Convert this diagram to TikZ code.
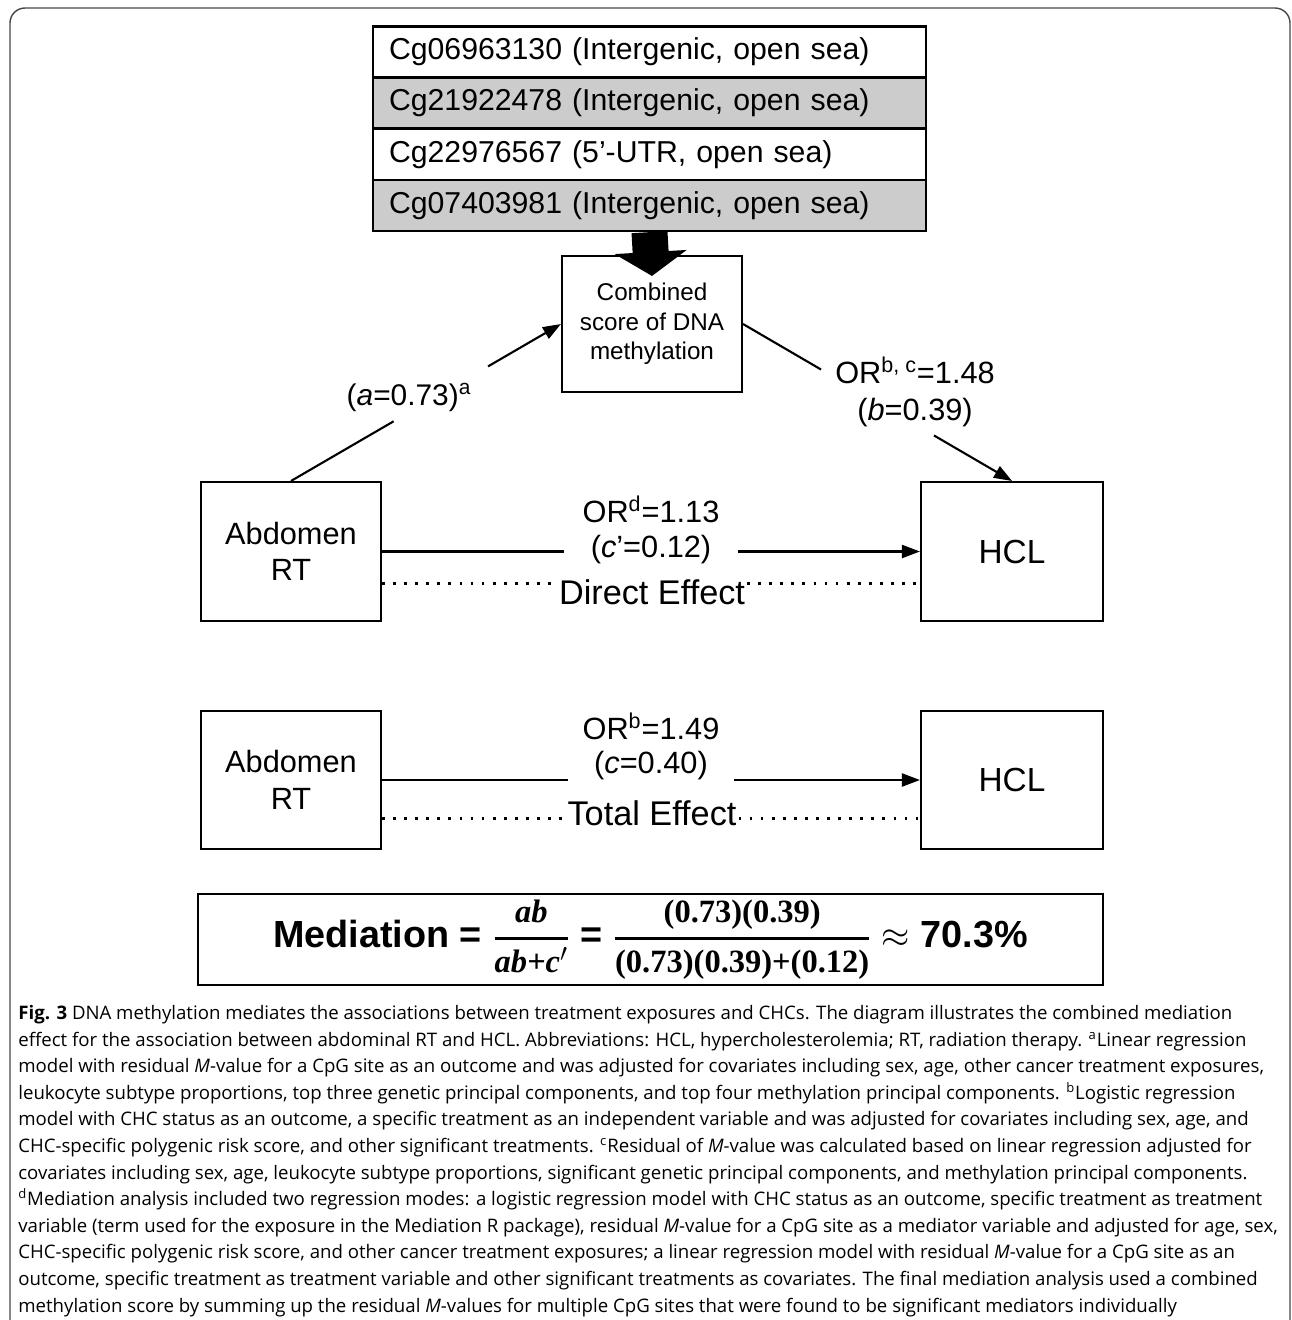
\documentclass[tikz,border=0pt]{standalone}
\usepackage{fontspec}
\usepackage{amsmath}
\setmainfont{Liberation Sans}
\newfontfamily\capfont{Open Sans}
\newfontfamily\fracfont{Liberation Serif}
\usetikzlibrary{calc,arrows.meta}

\definecolor{rowgray}{RGB}{204,204,204}
\definecolor{framegray}{RGB}{70,70,70}
\newcommand\fr{\fracfont\bfseries\fontsize{18.5}{20}\selectfont}

\tikzset{
  cellbox/.style={draw, line width=1.3pt, minimum height=1.02cm, text width=10.42cm,
    inner xsep=0.32cm, align=left, font=\fontsize{17.2}{18}\selectfont},
  varbox/.style={draw, line width=1.2pt, minimum width=3.6cm, minimum height=2.78cm,
    align=center, font=\fontsize{17.5}{20.8}\selectfont},
  pathlabel/.style={font=\fontsize{17.5}{21}\selectfont, inner sep=0pt, align=center},
  gaplabel/.style={font=\fontsize{17.5}{21}\selectfont, inner ysep=0pt, inner xsep=0.52cm},
  effectlabel/.style={font=\fontsize{19.5}{22}\selectfont, inner ysep=0pt, inner xsep=1pt},
  plainlink/.style={line width=1.2pt},
  link/.style={line width=1.2pt, -{Triangle[length=0.36cm,width=0.26cm]}},
  effectline/.style={line width=1.7pt, dash pattern=on 1.6pt off 4.7pt},
}

\begin{document}
\begin{tikzpicture}[x=0.02cm, y=-0.02cm]
    \useasboundingbox (0,0) rectangle (1292,1320);
    \draw[framegray, line width=0.8pt, rounded corners=0.3cm] (10,1320) -- (10,8) -- (1290,8) -- (1290,1320);

    % CpG sites
    \node[cellbox] (cell1) at (649.5,52) {Cg06963130 (Intergenic, open sea)};
    \node[cellbox, fill=rowgray] (cell2) at (649.5,103) {Cg21922478 (Intergenic, open sea)};
    \node[cellbox] (cell3) at (649.5,154.5) {Cg22976567 (5'-UTR, open sea)};
    \node[cellbox, fill=rowgray] (cell4) at (649.5,205.5) {Cg07403981 (Intergenic, open sea)};

    % mediator
    \node[varbox, minimum height=2.72cm, font=\fontsize{13.8}{16.8}\selectfont] (comb) at (652,324)
        {Combined\\score of DNA\\methylation};
    \draw[line width=0.72cm, -{Triangle[length=0.48cm,width=1.42cm]}] (cell4.south) -- ($(comb.north)+(0,21)$);

    % direct effect
    \node[varbox] (abd1) at (291,551.5) {Abdomen\\RT};
    \node[varbox, minimum width=3.64cm, font=\fontsize{19}{22}\selectfont] (hcl1) at (1012,551.5) {HCL};

    \draw[plainlink] (abd1.north) -- ($(abd1.north)!0.38!(comb.west)$);
    \draw[link] ($(abd1.north)!0.73!(comb.west)$) -- (comb.west);
    \node[pathlabel, font=\fontsize{17}{21}\selectfont] (apath) at (409,397) {(\textit{a}=0.73)\textsuperscript{a}};

    \draw[plainlink] (comb.east) -- ($(comb.east)!0.29!(hcl1.north)$);
    \draw[link] ($(comb.east)!0.71!(hcl1.north)$) -- (hcl1.north);
    \node[pathlabel] (bpath) at (915,391.5) {OR\textsuperscript{b, c}=1.48\\(\textit{b}=0.39)};

    \node[pathlabel] (ordir) at (651,509) {OR\textsuperscript{d}=1.13};
    \node[gaplabel] (cdir) at (651,550) {(\textit{c}'=0.12)};
    \draw[plainlink] (abd1.east) -- (abd1.east -| cdir.west);
    \draw[link] (abd1.east -| cdir.east) -- (hcl1.west);

    \node[effectlabel] (deff) at (652,592) {Direct Effect};
    \coordinate (dline) at (0,583);
    \draw[effectline] (abd1.east |- dline) -- (deff.west |- dline);
    \draw[effectline] (deff.east |- dline) -- (hcl1.west |- dline);

    % total effect
    \node[varbox, minimum height=2.76cm] (abd2) at (291,780) {Abdomen\\RT};
    \node[varbox, minimum width=3.64cm, minimum height=2.76cm, font=\fontsize{19}{22}\selectfont] (hcl2) at (1012,780) {HCL};

    \node[pathlabel] (ortot) at (651,726) {OR\textsuperscript{b}=1.49};
    \node[gaplabel] (ctot) at (651,766) {(\textit{c}=0.40)};
    \draw[plainlink] (abd2.east) -- (abd2.east -| ctot.west);
    \draw[link] (abd2.east -| ctot.east) -- (hcl2.west);

    \node[effectlabel] (teff) at (652,813) {Total Effect};
    \coordinate (tline) at (0,818);
    \draw[effectline] (abd2.east |- tline) -- (teff.west |- tline);
    \draw[effectline] (teff.east |- tline) -- (hcl2.west |- tline);

    % mediation proportion
    \node[draw, line width=1.2pt, minimum width=18.1cm, minimum height=1.78cm,
        font=\fontsize{21.5}{24}\selectfont\bfseries] (med) at (650.5,939.5)
        {Mediation = $\genfrac{}{}{1.5pt}{0}{\mbox{\fr\itshape ab}}{\mbox{\fr\itshape ab+c}{}^{\prime}}$ =
         $\genfrac{}{}{1.5pt}{0}{\mbox{\fr (0.73)(0.39)}}{\mbox{\fr (0.73)(0.39)+(0.12)}}$
         $\approx$ 70.3\%};

    % caption
    \node[anchor=north west, inner sep=0pt, align=left,
        font=\capfont\fontsize{10.6}{15.14}\selectfont] (cap) at (18,1005)
        {{\bfseries Fig. 3} DNA methylation mediates the associations between treatment exposures and CHCs. The diagram illustrates the combined mediation\\
         effect for the association between abdominal RT and HCL. Abbreviations: HCL, hypercholesterolemia; RT, radiation therapy. \textsuperscript{a}Linear regression\\
         model with residual \textit{M}-value for a CpG site as an outcome and was adjusted for covariates including sex, age, other cancer treatment exposures,\\
         leukocyte subtype proportions, top three genetic principal components, and top four methylation principal components. \textsuperscript{b}Logistic regression\\
         model with CHC status as an outcome, a specific treatment as an independent variable and was adjusted for covariates including sex, age, and\\
         CHC-specific polygenic risk score, and other significant treatments. \textsuperscript{c}Residual of \textit{M}-value was calculated based on linear regression adjusted for\\
         covariates including sex, age, leukocyte subtype proportions, significant genetic principal components, and methylation principal components.\\
         \textsuperscript{d}Mediation analysis included two regression modes: a logistic regression model with CHC status as an outcome, specific treatment as treatment\\
         variable (term used for the exposure in the Mediation R package), residual \textit{M}-value for a CpG site as a mediator variable and adjusted for age, sex,\\
         CHC-specific polygenic risk score, and other cancer treatment exposures; a linear regression model with residual \textit{M}-value for a CpG site as an\\
         outcome, specific treatment as treatment variable and other significant treatments as covariates. The final mediation analysis used a combined\\
         methylation score by summing up the residual \textit{M}-values for multiple CpG sites that were found to be significant mediators individually};
\end{tikzpicture}
\end{document}
